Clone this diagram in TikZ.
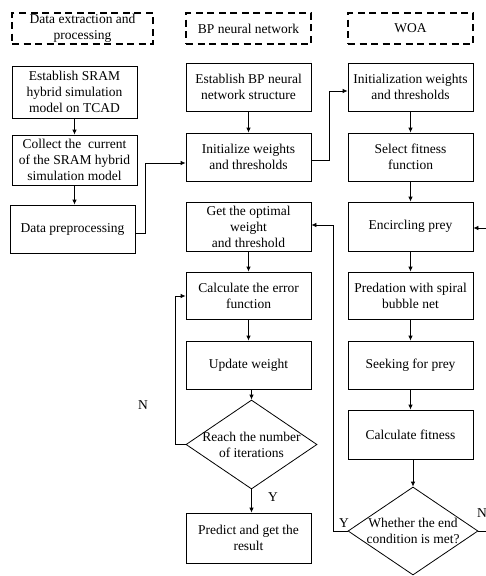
\documentclass[tikz,border=0pt]{standalone}
\usepackage{fontspec}
\setmainfont{Liberation Serif}
\usetikzlibrary{arrows.meta,shapes.geometric}
\begin{document}
\begin{tikzpicture}[x=1pt,y=-1pt,
  font=\fontsize{13.5}{16}\selectfont,
  box/.style={draw, line width=0.8pt, inner sep=0pt, align=center, minimum width=125pt, minimum height=48pt},
  hdr/.style={draw, line width=1.1pt, dash pattern=on 7pt off 4.5pt, inner sep=0pt, align=center, minimum width=125pt, minimum height=31pt},
  decision/.style={draw, line width=0.8pt, diamond, inner sep=0pt},
  arr/.style={line width=0.8pt, -{Latex[length=5pt,width=4.5pt]}},
  ln/.style={line width=0.8pt},
  lbl/.style={inner sep=0pt}]
\useasboundingbox (0,0) rectangle (486,576);
% headers
\node[hdr, minimum width=141pt] (h1) at (82.5,28.5) {Data extraction and\\processing};
\node[hdr] (h2) at (248.5,28.5) {BP neural network};
\node[hdr] (h3) at (410.5,28.5) {WOA};
% column 1
\node[box, minimum height=52pt] (a) at (74.5,92) {Establish SRAM\\hybrid simulation\\model on TCAD};
\node[box, minimum height=50pt] (b) at (74.5,160) {Collect the~ current\\of the SRAM hybrid\\simulation model};
\node[box] (c) at (72.5,229) {Data preprocessing};
% column 2
\node[box] (e1) at (248.5,87) {Establish BP neural\\network structure};
\node[box] (e2) at (248.5,157) {Initialize weights\\and thresholds};
\node[box, minimum height=49pt] (e3) at (248.5,226.5) {Get the optimal\\weight\\and threshold};
\node[box, minimum height=47pt] (e4) at (248.5,295.5) {Calculate the error\\function};
\node[box] (e5) at (248.5,365) {Update weight};
\node[decision, minimum width=131pt, minimum height=89pt] (d1) at (251.5,444.5) {};
\node[align=center, inner sep=0pt] (d1t) at (251.5,444.5) {Reach the number\\of iterations};
\node[box, minimum height=50pt] (e6) at (248.5,538) {Predict and get the\\result};
% column 3
\node[box] (w1) at (410.5,87) {Initialization weights\\and thresholds};
\node[box] (w2) at (410.5,157) {Select fitness\\function};
\node[box, minimum height=49pt] (w3) at (410.5,226.5) {Encircling prey};
\node[box, minimum height=47pt] (w4) at (410.5,295.5) {Predation with spiral\\bubble net};
\node[box] (w5) at (410.5,365) {Seeking for prey};
\node[box, minimum height=49pt] (w6) at (410.5,434.5) {Calculate fitness};
\node[decision, minimum width=130pt, minimum height=88pt] (d2) at (413,531) {};
\node[align=center, inner sep=0pt] (d2t) at (413,531) {Whether the end\\condition is met?};
% connectors column 1
\draw[arr] (a.south) -- (b.north);
\draw[arr] (b.south) -- (b.south |- c.north);
\draw[arr] ([yshift=-4pt]c.east) -- ++(10,0) |- ([yshift=-6pt]e2.west);
% column 2
\draw[arr] (e1.south) -- (e2.north);
\draw[arr] ([yshift=-3pt]e2.east) -- ++(18,0) |- ([yshift=-4pt]w1.west);
\draw[arr] (e3.south) -- (e4.north);
\draw[arr] (e4.south) -- (e5.north);
\draw[arr] (e5.south -| d1.north) -- (d1.north);
\draw[arr] (d1.south) -- (d1.south |- e6.north);
\draw[arr] (d1.west) -- ++(-10,0) |- ([yshift=-0.5pt]e4.west);
% column 3
\draw[arr] (w1.south) -- (w2.north);
\draw[arr] (w2.south) -- (w3.north);
\draw[arr] (w3.south) -- (w4.north);
\draw[arr] (w4.south) -- (w5.north);
\draw[arr] (w5.south) -- (w6.north);
\draw[arr] (w6.south -| d2.north) -- (d2.north);
\draw[arr] (d2.east) -- ++(10,0) |- ([yshift=-1.5pt]w3.east);
\draw[arr] (d2.west) -- ++(-14,0) |- ([yshift=1.5pt]e3.east);
% labels
\node[lbl] (n1) at (143,405) {N};
\node[lbl] (y1) at (273,497) {Y};
\node[lbl] (y2) at (344,523) {Y};
\node[lbl] (n2) at (482,513) {N};
\end{tikzpicture}
\end{document}
